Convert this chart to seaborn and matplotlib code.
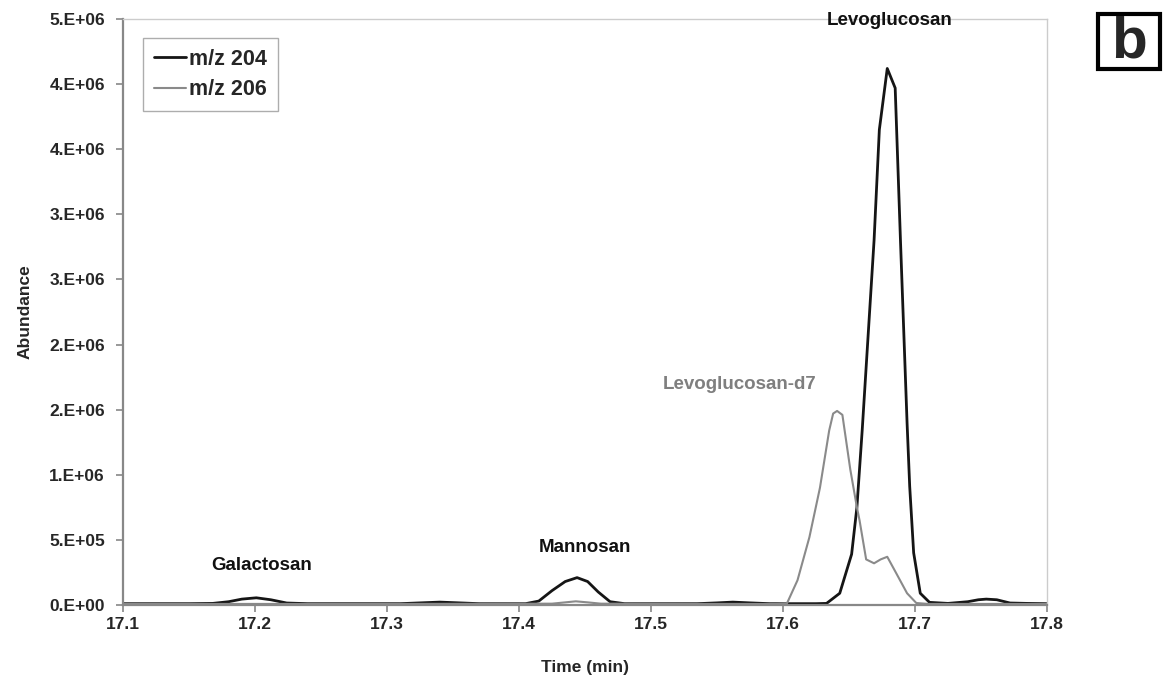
import numpy as np
import pandas as pd
import seaborn as sns
from matplotlib import pyplot as plt
from matplotlib.patches import Rectangle

# m/z 204 trace (time in min, abundance in millions)
time_204 = [17.100, 17.150, 17.168, 17.180, 17.190, 17.201, 17.212, 17.224, 17.240,
            17.310, 17.325, 17.340, 17.355, 17.370,
            17.405, 17.415, 17.425, 17.435, 17.444, 17.452, 17.460, 17.469, 17.480,
            17.535, 17.550, 17.562, 17.575, 17.590,
            17.625, 17.633, 17.643, 17.652, 17.656, 17.660, 17.669, 17.673, 17.679,
            17.685, 17.689, 17.694, 17.696, 17.699, 17.704, 17.711, 17.725,
            17.740, 17.748, 17.754, 17.762, 17.772, 17.785, 17.800]
abund_204 = [0.010, 0.010, 0.012, 0.025, 0.045, 0.055, 0.040, 0.015, 0.010,
             0.010, 0.016, 0.022, 0.016, 0.010,
             0.010, 0.030, 0.110, 0.180, 0.210, 0.180, 0.100, 0.025, 0.010,
             0.010, 0.016, 0.022, 0.016, 0.010,
             0.010, 0.012, 0.090, 0.390, 0.750, 1.340, 2.800, 3.650, 4.120,
             3.970, 2.800, 1.400, 0.910, 0.400, 0.090, 0.020, 0.012,
             0.025, 0.040, 0.045, 0.040, 0.015, 0.012, 0.010]

# m/z 206 trace
time_206 = [17.100, 17.300, 17.425, 17.435, 17.443, 17.452, 17.462, 17.550,
            17.595, 17.603, 17.611, 17.620, 17.628, 17.635, 17.638, 17.641, 17.645,
            17.651, 17.656, 17.658, 17.663, 17.669, 17.674, 17.679, 17.686,
            17.694, 17.701, 17.710, 17.750, 17.800]
abund_206 = [0.008, 0.008, 0.010, 0.020, 0.028, 0.020, 0.010, 0.008,
             0.008, 0.012, 0.190, 0.520, 0.900, 1.340, 1.470, 1.490, 1.460,
             1.040, 0.750, 0.650, 0.350, 0.320, 0.350, 0.370, 0.240,
             0.090, 0.015, 0.008, 0.008, 0.008]

y_ticks = [0, 0.5, 1.0, 1.5, 2.0, 2.5, 3.0, 3.5, 4.0, 4.5]
y_tick_labels = ["0.E+00", "5.E+05", "1.E+06", "2.E+06", "2.E+06",
                 "3.E+06", "3.E+06", "4.E+06", "4.E+06", "5.E+06"]
x_ticks = [17.1, 17.2, 17.3, 17.4, 17.5, 17.6, 17.7, 17.8]

peak_names = ["Galactosan", "Mannosan", "Levoglucosan-d7", "Levoglucosan"]
peak_pos = [(17.205, 0.30), (17.450, 0.44), (17.567, 1.69), (17.681, 4.49)]
peak_colors = ["#111111", "#111111", "#7f7f7f", "#111111"]

sns.set_style("white")
plt.rcParams['font.family'] = ['Liberation Sans', 'DejaVu Sans']
plt.rcParams['font.weight'] = 'bold'

fig = plt.figure(figsize=(11.74, 6.91), dpi=100)
ax = fig.add_axes([0.1048, 0.1245, 0.7870, 0.848])

sns.lineplot(x=time_204, y=abund_204, color="#151515", linewidth=2.0,
             label="m/z 204", ax=ax)
sns.lineplot(x=time_206, y=abund_206, color="#8a8a8a", linewidth=1.5,
             label="m/z 206", ax=ax)

ax.set_xlim(17.1, 17.8)
ax.set_ylim(0, 4.5)
ax.set_xticks(x_ticks)
ax.set_xticklabels([f"{t:.1f}" for t in x_ticks], fontsize=12.5, fontweight="bold")
ax.set_yticks(y_ticks)
ax.set_yticklabels(y_tick_labels, fontsize=12.5, fontweight="bold")
ax.tick_params(axis="both", direction="out", length=5, width=1.2,
               color="#888888", left=True, bottom=True)
ax.tick_params(axis="y", pad=8)
ax.tick_params(axis="x", pad=4)

for side in ["left", "bottom"]:
    ax.spines[side].set_color("#888888")
    ax.spines[side].set_linewidth(1.6)
for side in ["top", "right"]:
    ax.spines[side].set_color("#cccccc")
    ax.spines[side].set_linewidth(1.0)

ax.set_xlabel("Time (min)", fontsize=12.5, fontweight="bold", labelpad=20)
ax.set_ylabel("Abundance", fontsize=12.5, fontweight="bold", labelpad=12)

for name, (tx, ty), col in zip(peak_names, peak_pos, peak_colors):
    ax.text(tx, ty, name, ha="center", va="center", fontsize=13.5,
            fontweight="bold", color=col, clip_on=False)

leg = ax.legend(loc="upper left", bbox_to_anchor=(0.0215, 0.968), fontsize=15.5,
                frameon=True, fancybox=False, handlelength=1.5,
                handletextpad=0.15, borderpad=0.5, labelspacing=0.45,
                borderaxespad=0)
leg.get_frame().set_edgecolor("#999999")
leg.get_frame().set_linewidth(1.0)
for t in leg.get_texts():
    t.set_fontweight("bold")

# panel letter box
fig.patches.append(Rectangle((1098 / 1174, 1 - 69 / 691), 62 / 1174, 55 / 691,
                             transform=fig.transFigure, fill=False,
                             edgecolor="black", linewidth=3))
fig.text(1129 / 1174, 1 - 42 / 691, "b", ha="center", va="center",
         fontsize=42, fontweight="bold")

plt.savefig("out.png", dpi=100)
